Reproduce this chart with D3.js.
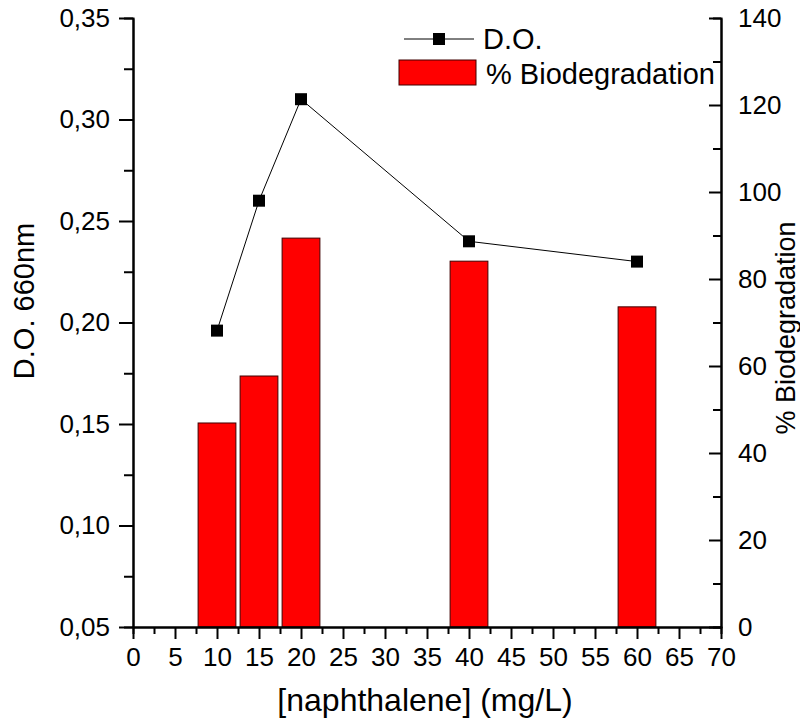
<!DOCTYPE html>
<html>
<head>
<meta charset="utf-8">
<script src="https://cdn.jsdelivr.net/npm/d3@7"></script>
<style>
	body { margin: 0; background: #fff; }
	svg { font-family: "Liberation Sans", Arial, sans-serif; }
	.domain { stroke: #000; stroke-width: 2px; }
	.tick line { stroke: #000; stroke-width: 2px; }
	.tick text { font-size: 26px; fill: #000; }
</style>
</head>
<body>
<div id="chart"></div>
<script>
// concentrations (mg/L)
var conc = [10, 15, 20, 40, 60]
// optical density at 660nm
var od = [0.196, 0.260, 0.310, 0.240, 0.230]
// % biodegradation
var biodeg = [46.9, 57.7, 89.4, 84.1, 73.6]
var xTicks = d3.range(0, 71, 5)
var leftTicks = [0.05, 0.10, 0.15, 0.20, 0.25, 0.30, 0.35]
var rightTicks = [0, 20, 40, 60, 80, 100, 120, 140]

var width = 800
var height = 720
var plotL = 133, plotR = 721, plotT = 18, plotB = 627
var barW = 4.5

var svg = d3.select('#chart').append('svg')
	.attr('width', width)
	.attr('height', height)

var x = d3.scaleLinear().domain([0, 70]).range([plotL, plotR])
var yL = d3.scaleLinear().domain([0.05, 0.35]).range([plotB, plotT])
var yR = d3.scaleLinear().domain([0, 140]).range([plotB, plotT])

var fmt = function(d) { return d3.format('.2f')(d).replace('.', ',') }

// bars first, axes over them
svg.append('g').selectAll('rect')
	.data(conc)
	.enter().append('rect')
		.attr('x', function(d) { return x(d - barW / 2) })
		.attr('width', function(d) { return x(barW) - x(0) })
		.attr('y', function(d, i) { return yR(biodeg[i]) })
		.attr('height', function(d, i) { return plotB - yR(biodeg[i]) })
		.attr('fill', '#ff0000')
		.attr('stroke', '#400000')
		.attr('stroke-width', 1)

// minor ticks
svg.append('g')
	.attr('transform', 'translate(0,' + plotB + ')')
	.call(d3.axisBottom(x).tickValues(d3.range(2.5, 70, 5)).tickSize(7).tickFormat(''))
svg.append('g')
	.attr('transform', 'translate(' + plotL + ',0)')
	.call(d3.axisLeft(yL).tickValues(d3.range(0.075, 0.35, 0.05)).tickSize(9).tickFormat(''))
svg.append('g')
	.attr('transform', 'translate(' + plotR + ',0)')
	.call(d3.axisRight(yR).tickValues(d3.range(10, 140, 20)).tickSize(-8).tickFormat(''))

// main axes
svg.append('g')
	.attr('transform', 'translate(0,' + plotB + ')')
	.call(d3.axisBottom(x).tickValues(xTicks).tickSize(12).tickPadding(9).tickSizeOuter(0))
svg.append('g')
	.attr('transform', 'translate(' + plotL + ',0)')
	.call(d3.axisLeft(yL).tickValues(leftTicks).tickFormat(fmt).tickSize(14).tickPadding(9).tickSizeOuter(0))
svg.append('g')
	.attr('transform', 'translate(' + plotR + ',0)')
	.call(d3.axisRight(yR).tickValues(rightTicks).tickSize(-12).tickPadding(17).tickSizeOuter(0))

// D.O. line
var line = d3.line()
	.x(function(d) { return x(d) })
	.y(function(d, i) { return yL(od[i]) })
svg.append('path')
	.datum(conc)
	.attr('d', line)
	.attr('fill', 'none')
	.attr('stroke', '#000')
	.attr('stroke-width', 1)

svg.append('g').selectAll('rect')
	.data(conc)
	.enter().append('rect')
		.attr('x', function(d) { return x(d) - 6 })
		.attr('y', function(d, i) { return yL(od[i]) - 6 })
		.attr('width', 12)
		.attr('height', 12)
		.attr('fill', '#000')

// axis titles
svg.append('text')
	.attr('x', 425)
	.attr('y', 711)
	.attr('text-anchor', 'middle')
	.attr('font-size', 32)
	.text('[naphthalene] (mg/L)')

svg.append('text')
	.attr('transform', 'translate(34,301) rotate(-90)')
	.attr('text-anchor', 'middle')
	.attr('font-size', 29)
	.text('D.O. 660nm')

svg.append('text')
	.attr('transform', 'translate(795,328) rotate(-90)')
	.attr('text-anchor', 'middle')
	.attr('font-size', 27)
	.text('% Biodegradation')

// legend
var lg = svg.append('g')
lg.append('line')
	.attr('x1', 404).attr('x2', 474)
	.attr('y1', 39).attr('y2', 39)
	.attr('stroke', '#000').attr('stroke-width', 1)
lg.append('rect')
	.attr('x', 433).attr('y', 33).attr('width', 12).attr('height', 12)
	.attr('fill', '#000')
lg.append('text')
	.attr('x', 483).attr('y', 49)
	.attr('font-size', 29)
	.text('D.O.')
lg.append('rect')
	.attr('x', 399).attr('y', 60).attr('width', 77).attr('height', 25)
	.attr('fill', '#ff0000').attr('stroke', '#400000')
lg.append('text')
	.attr('x', 486).attr('y', 84)
	.attr('font-size', 29)
	.text('% Biodegradation')
</script>
</body>
</html>
